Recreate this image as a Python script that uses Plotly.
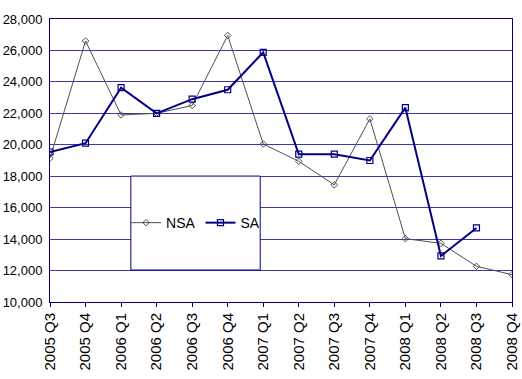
import plotly.graph_objects as go

categories = ["2005 Q3", "2005 Q4", "2006 Q1", "2006 Q2", "2006 Q3", "2006 Q4",
              "2007 Q1", "2007 Q2", "2007 Q3", "2007 Q4", "2008 Q1", "2008 Q2",
              "2008 Q3", "2008 Q4"]
nsa = [19150, 26600, 21900, 22000, 22500, 26950, 20050, 18950, 17450, 21650,
       14030, 13730, 12270, 11740]
sa = [19540, 20100, 23630, 22000, 22900, 23500, 25880, 19400, 19400, 19000,
      22360, 12930, 14710, None]
y_ticks = [10000, 12000, 14000, 16000, 18000, 20000, 22000, 24000, 26000, 28000]
y_labels = ["10,000", "12,000", "14,000", "16,000", "18,000", "20,000",
            "22,000", "24,000", "26,000", "28,000"]

NAVY = "#000080"
GRID = "#3a3aaa"
sans = "Liberation Sans, Arial, sans-serif"

fig = go.Figure()
fig.add_trace(go.Scatter(
    x=categories, y=nsa, name="NSA", mode="lines+markers",
    line=dict(color="#505050", width=1),
    marker=dict(symbol="diamond-open", size=5, color="#505050", line=dict(width=1)),
))
fig.add_trace(go.Scatter(
    x=categories, y=sa, name="SA", mode="lines+markers",
    line=dict(color=NAVY, width=2),
    marker=dict(symbol="square-open", size=6, color=NAVY, line=dict(width=1.2)),
))

fig.add_shape(type="rect", xref="paper", yref="paper",
              x0=0.175, x1=0.455, y0=0.113, y1=0.445,
              fillcolor="white", line=dict(color=NAVY, width=1), layer="above")

fig.update_layout(
    width=522, height=379,
    margin=dict(l=50, r=10, t=19, b=77),
    paper_bgcolor="white", plot_bgcolor="white",
    showlegend=True,
    legend=dict(orientation="h", x=0.315, y=0.279, xanchor="center", yanchor="middle",
                bgcolor="rgba(0,0,0,0)", borderwidth=0,
                font=dict(family=sans, size=14, color="black"),
                itemwidth=30, tracegroupgap=0),
    font=dict(family=sans, color="black"),
)
fig.update_xaxes(
    type="category", range=[0, 13], tickangle=-90,
    showline=True, linecolor=NAVY, linewidth=1, mirror=True,
    ticks="outside", ticklen=4, tickcolor=NAVY,
    showgrid=False, zeroline=False, automargin=False,
    tickfont=dict(family=sans, size=15, color="black"),
)
fig.update_yaxes(
    range=[10000, 28000], tickvals=y_ticks, ticktext=y_labels,
    showline=True, linecolor=NAVY, linewidth=1, mirror=True,
    ticks="", showgrid=True, gridcolor=GRID, gridwidth=1, zeroline=False,
    automargin=False, ticklabelstandoff=4,
    tickfont=dict(family=sans, size=13, color="black"),
)

fig.write_html("out.html", config={"displayModeBar": False},
               post_script="document.body.style.margin='0';")
